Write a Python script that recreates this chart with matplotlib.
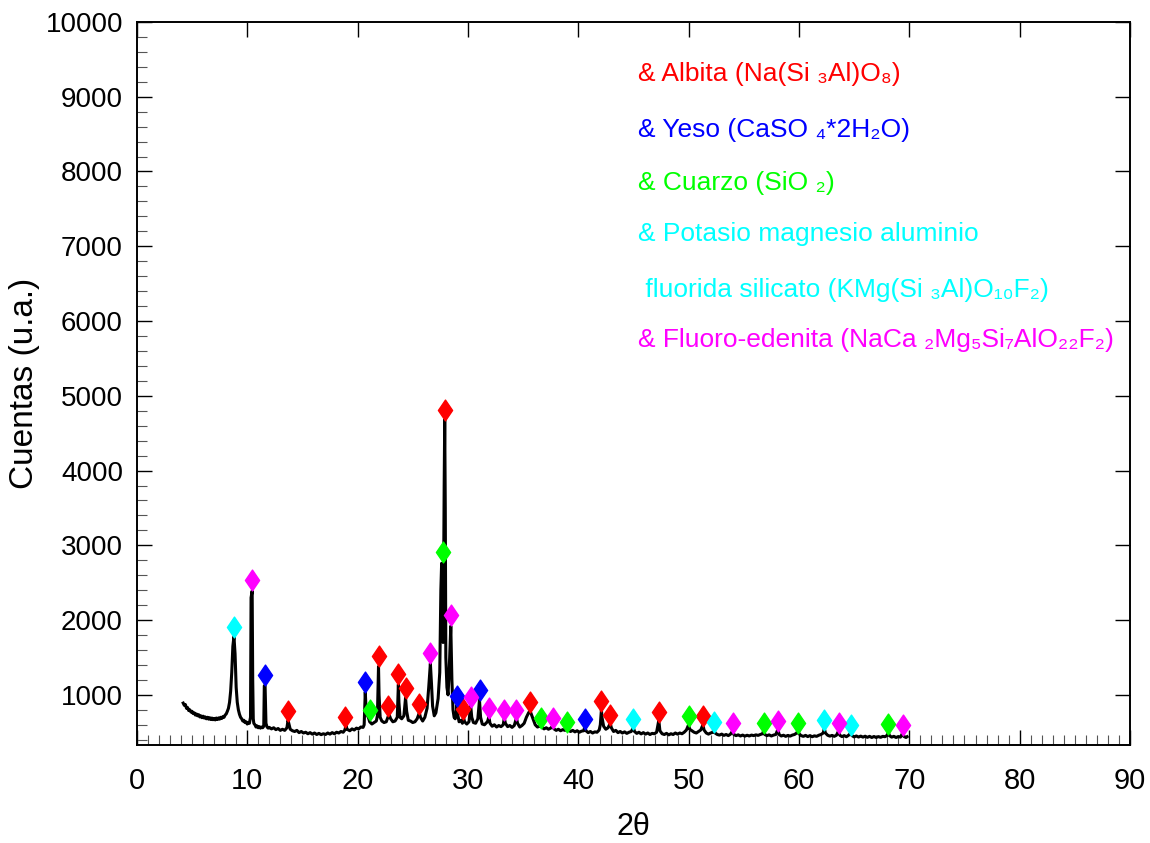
import matplotlib
matplotlib.use('Agg')
import matplotlib.pyplot as plt
from matplotlib.path import Path
from matplotlib.ticker import MultipleLocator

# difractograma: (2theta, cuentas)
pattern = [
    (4.2, 890), (4.3, 860), (4.4, 870), (4.5, 820), (4.6, 830), (4.7, 790), (4.8, 800),
    (4.9, 770), (5.0, 780), (5.1, 750), (5.2, 760), (5.3, 730), (5.4, 745), (5.5, 720),
    (5.6, 735), (5.7, 705), (5.8, 720), (5.9, 695), (6.0, 715), (6.1, 690), (6.2, 705),
    (6.3, 680), (6.4, 700), (6.5, 675), (6.6, 695), (6.7, 670), (6.8, 690), (6.9, 668),
    (7.0, 685), (7.1, 665), (7.2, 690), (7.3, 670), (7.4, 692), (7.5, 675), (7.6, 700),
    (7.7, 685), (7.8, 710), (7.9, 700), (8.0, 730), (8.1, 745), (8.2, 780), (8.3, 820),
    (8.4, 900), (8.5, 1050), (8.6, 1300), (8.7, 1650), (8.8, 1780), (8.9, 1550), (9.0, 1100),
    (9.1, 900), (9.2, 800), (9.3, 740), (9.4, 700), (9.5, 680), (9.6, 650), (9.7, 660),
    (9.8, 630), (9.9, 640), (10.0, 610), (10.1, 625), (10.2, 620), (10.3, 700), (10.35, 2300),
    (10.45, 2390), (10.5, 1200), (10.55, 680), (10.6, 620), (10.7, 600), (10.8, 570),
    (10.9, 585), (11.0, 560), (11.1, 575), (11.2, 555), (11.3, 570), (11.4, 560), (11.5, 580),
    (11.55, 1120), (11.62, 1130), (11.7, 620), (11.8, 570), (11.9, 555), (12.0, 565),
    (12.2, 545), (12.4, 560), (12.6, 535), (12.8, 550), (13.0, 525), (13.2, 540), (13.4, 525),
    (13.6, 560), (13.7, 660), (13.8, 600), (13.9, 540), (14.1, 520), (14.3, 510), (14.5, 525),
    (14.7, 495), (14.9, 510), (15.1, 490), (15.3, 500), (15.5, 480), (15.7, 495), (15.9, 475),
    (16.1, 490), (16.3, 470), (16.5, 485), (16.7, 468), (16.9, 480), (17.1, 470), (17.3, 490),
    (17.5, 475), (17.7, 495), (17.9, 480), (18.1, 500), (18.3, 490), (18.5, 510), (18.7, 500),
    (18.85, 530), (18.95, 590), (19.05, 540), (19.3, 520), (19.5, 545), (19.7, 530),
    (19.9, 555), (20.1, 545), (20.3, 570), (20.5, 565), (20.6, 600), (20.7, 1040),
    (20.75, 880), (20.85, 740), (21.0, 690), (21.1, 640), (21.3, 610), (21.5, 630),
    (21.7, 650), (21.8, 720), (21.9, 1380), (21.95, 1000), (22.05, 700), (22.2, 650),
    (22.4, 630), (22.6, 640), (22.75, 700), (22.85, 740), (23.0, 680), (23.2, 640),
    (23.4, 650), (23.6, 700), (23.7, 1140), (23.75, 900), (23.85, 700), (24.0, 680),
    (24.2, 720), (24.35, 960), (24.45, 780), (24.6, 660), (24.8, 650), (25.0, 630),
    (25.2, 640), (25.4, 680), (25.6, 760), (25.7, 700), (25.9, 650), (26.1, 700),
    (26.3, 820), (26.45, 1100), (26.6, 1420), (26.7, 1150), (26.8, 850), (26.95, 720),
    (27.1, 760), (27.3, 950), (27.45, 1300), (27.55, 2400), (27.62, 2760), (27.68, 2300),
    (27.75, 1700), (27.8, 2600), (27.85, 3800), (27.9, 4680), (27.95, 3500), (28.0, 1500),
    (28.1, 1100), (28.2, 1000), (28.3, 1300), (28.45, 1920), (28.55, 1200), (28.65, 800),
    (28.75, 700), (28.85, 680), (28.95, 760), (29.0, 860), (29.1, 720), (29.2, 640),
    (29.4, 660), (29.5, 620), (29.6, 700), (29.7, 640), (29.9, 610), (30.1, 640),
    (30.25, 860), (30.35, 700), (30.5, 630), (30.7, 620), (30.9, 680), (31.05, 930),
    (31.15, 700), (31.3, 610), (31.5, 600), (31.7, 630), (31.8, 650), (31.9, 710),
    (32.0, 620), (32.2, 580), (32.4, 600), (32.6, 570), (32.8, 590), (33.0, 575),
    (33.2, 600), (33.3, 690), (33.4, 620), (33.6, 575), (33.8, 590), (34.0, 565),
    (34.2, 590), (34.4, 690), (34.5, 620), (34.7, 570), (34.9, 590), (35.1, 620),
    (35.3, 700), (35.5, 760), (35.6, 780), (35.7, 760), (35.9, 680), (36.1, 600),
    (36.3, 570), (36.5, 580), (36.6, 610), (36.7, 570), (36.9, 545), (37.1, 560),
    (37.3, 540), (37.5, 555), (37.7, 585), (37.8, 545), (38.0, 525), (38.2, 540),
    (38.4, 520), (38.6, 535), (38.8, 525), (38.95, 565), (39.1, 530), (39.3, 510),
    (39.5, 525), (39.7, 505), (39.9, 520), (40.1, 500), (40.3, 515), (40.5, 520),
    (40.6, 580), (40.7, 520), (40.9, 495), (41.1, 510), (41.3, 490), (41.5, 505),
    (41.7, 500), (41.9, 530), (42.0, 600), (42.1, 800), (42.15, 700), (42.3, 580),
    (42.5, 540), (42.7, 560), (42.9, 620), (43.0, 560), (43.2, 510), (43.4, 525),
    (43.6, 495), (43.8, 510), (44.0, 490), (44.2, 505), (44.4, 485), (44.6, 500),
    (44.8, 510), (45.0, 560), (45.1, 510), (45.3, 485), (45.5, 500), (45.7, 478),
    (45.9, 495), (46.1, 475), (46.3, 490), (46.5, 470), (46.7, 485), (46.9, 480),
    (47.1, 500), (47.3, 660), (47.4, 520), (47.6, 480), (47.8, 470), (48.0, 485),
    (48.2, 465), (48.4, 480), (48.6, 470), (48.8, 490), (49.0, 475), (49.2, 490),
    (49.4, 480), (49.6, 500), (49.8, 530), (50.0, 600), (50.1, 540), (50.3, 520),
    (50.5, 500), (50.7, 490), (50.9, 510), (51.1, 530), (51.3, 600), (51.4, 530),
    (51.6, 490), (51.8, 475), (52.0, 490), (52.2, 500), (52.3, 540), (52.4, 490),
    (52.6, 470), (52.8, 462), (53.0, 475), (53.2, 458), (53.4, 470), (53.6, 455),
    (53.8, 475), (54.0, 520), (54.1, 470), (54.3, 455), (54.5, 465), (54.7, 450),
    (54.9, 462), (55.1, 448), (55.3, 460), (55.5, 450), (55.7, 462), (55.9, 455),
    (56.1, 465), (56.3, 458), (56.5, 470), (56.7, 480), (56.8, 520), (56.9, 470),
    (57.1, 455), (57.3, 465), (57.5, 450), (57.7, 462), (57.9, 470), (58.1, 540),
    (58.2, 470), (58.4, 450), (58.6, 460), (58.8, 445), (59.0, 458), (59.2, 448),
    (59.4, 462), (59.6, 470), (59.8, 490), (59.9, 520), (60.0, 480), (60.2, 455),
    (60.4, 445), (60.6, 458), (60.8, 442), (61.0, 455), (61.2, 440), (61.4, 452),
    (61.6, 445), (61.8, 460), (62.0, 470), (62.2, 490), (62.3, 550), (62.4, 490),
    (62.6, 460), (62.8, 448), (63.0, 458), (63.2, 445), (63.4, 460), (63.6, 520),
    (63.7, 460), (63.9, 442), (64.1, 455), (64.3, 440), (64.5, 460), (64.7, 490),
    (64.8, 455), (65.0, 438), (65.2, 450), (65.4, 436), (65.6, 448), (65.8, 435),
    (66.0, 447), (66.2, 432), (66.4, 445), (66.6, 430), (66.8, 443), (67.0, 430),
    (67.2, 442), (67.4, 432), (67.6, 445), (67.8, 440), (68.0, 460), (68.1, 500),
    (68.2, 455), (68.4, 435), (68.6, 445), (68.8, 430), (69.0, 442), (69.2, 435),
    (69.4, 490), (69.5, 445), (69.7, 430), (69.8, 440),
]
two_theta = [p[0] for p in pattern]
counts = [p[1] for p in pattern]

# marcadores de fases (posicion, altura del rombo)
albita_x = [13.7, 18.9, 21.9, 22.8, 23.7, 24.4, 25.6, 27.95, 29.6, 35.6, 42.1, 42.9, 47.3, 51.3]
albita_y = [790, 705, 1526, 853, 1281, 1098, 880, 4816, 813, 906, 920, 730, 770, 720]
yeso_x = [11.6, 20.7, 29.0, 31.1, 40.6]
yeso_y = [1270, 1178, 987, 1067, 679]
cuarzo_x = [21.1, 27.7, 36.6, 38.95, 50.0, 56.8, 59.9, 68.1]
cuarzo_y = [800, 2911, 692, 643, 720, 630, 630, 610]
potasio_x = [8.8, 45.0, 52.3, 62.3, 64.7]
potasio_y = [1910, 680, 640, 660, 600]
edenita_x = [10.4, 26.6, 28.5, 30.3, 31.9, 33.3, 34.4, 37.7, 54.0, 58.1, 63.6, 69.4]
edenita_y = [2530, 1566, 2067, 973, 826, 800, 800, 692, 630, 650, 630, 600]

legend_lines = [
    ('& Albita (Na(Si ₃Al)O₈)', '#ff0000'),
    ('& Yeso (CaSO ₄*2H₂O)', '#0000ff'),
    ('& Cuarzo (SiO ₂)', '#00ff00'),
    ('& Potasio magnesio aluminio', '#00ffff'),
    (' fluorida silicato (KMg(Si ₃Al)O₁₀F₂)', '#00ffff'),
    ('& Fluoro-edenita (NaCa ₂Mg₅Si₇AlO₂₂F₂)', '#ff00ff'),
]
legend_y = [9300, 8560, 7850, 7160, 6420, 5750]

plt.rcParams['font.family'] = ['Liberation Sans', 'DejaVu Sans']

fig = plt.figure(figsize=(11.5, 8.43), dpi=100)
ax = fig.add_axes([0.119, 0.1163, 0.8636, 0.8577])

ax.plot(two_theta, counts, color='black', lw=2.2, zorder=2)

diamond = Path([(0, 1), (0.68, 0), (0, -1), (-0.68, 0), (0, 1)],
               [Path.MOVETO, Path.LINETO, Path.LINETO, Path.LINETO, Path.CLOSEPOLY])
for xs, ys, c in [(albita_x, albita_y, '#ff0000'), (yeso_x, yeso_y, '#0000ff'),
                  (cuarzo_x, cuarzo_y, '#00ff00'), (potasio_x, potasio_y, '#00ffff'),
                  (edenita_x, edenita_y, '#ff00ff')]:
    ax.plot(xs, ys, ls='none', marker=diamond, ms=15, color=c, mec=c, zorder=3)

for (txt, c), yy in zip(legend_lines, legend_y):
    ax.text(45.4, yy, txt, color=c, fontsize=19, va='center', ha='left')

ax.set_xlim(0, 90)
ax.set_ylim(330, 10000)
ax.set_xticks(range(0, 91, 10))
ax.set_yticks(range(1000, 10001, 1000))
ax.xaxis.set_minor_locator(MultipleLocator(1))
ax.yaxis.set_minor_locator(MultipleLocator(200))
ax.tick_params(which='both', direction='in', top=True, right=True)
ax.tick_params(which='major', length=11, width=1)
ax.tick_params(which='minor', length=7, width=0.8, color='#555555', top=False, right=False)
ax.tick_params(axis='x', labelsize=21, pad=16)
ax.tick_params(axis='y', labelsize=20, pad=10)
for s in ax.spines.values():
    s.set_linewidth(1.4)

ax.set_xlabel('2θ', fontsize=22, labelpad=12)
ax.set_ylabel('Cuentas (u.a.)', fontsize=24, labelpad=4)

fig.savefig('out.png', dpi=100)
